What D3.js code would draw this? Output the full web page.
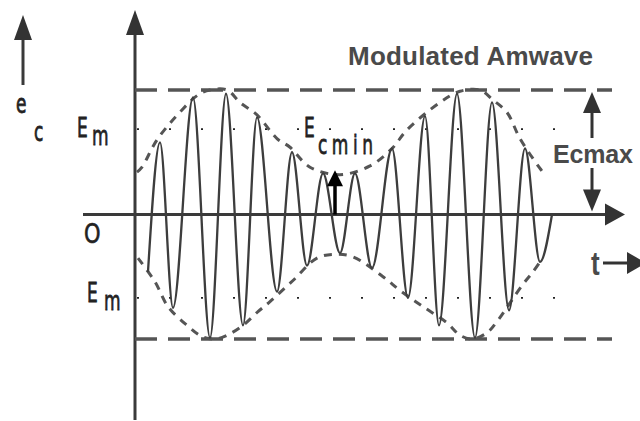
<!DOCTYPE html>
<meta charset="utf-8">
<script src="https://d3js.org/d3.v7.min.js"></script>
<style>
body { margin: 0; background: #fff; }
.wave { fill: none; stroke: #3d3d3d; stroke-width: 2.3px; stroke-linejoin: round; }
.env { fill: none; stroke: #555; stroke-width: 3px; stroke-dasharray: 8,7; }
.level { fill: none; stroke: #555; stroke-width: 3.5px; stroke-dasharray: 22,11; }
.dots { fill: none; stroke: #222; stroke-width: 1.6px; stroke-dasharray: 2,30; }
.axis { stroke: #3a3a3a; stroke-width: 3px; }
.lbl { font-family: "DejaVu Sans", sans-serif; font-size: 17px; fill: #222; stroke: #222; stroke-width: 0.5px; }
.bold { font-family: "Liberation Sans", Arial, sans-serif; font-weight: bold; fill: #4a4a4a; }
</style>
<div id="plot"></div>
<script>
// carrier peaks and troughs (t, e)
var carrierT = [1.3, 2.5, 3.8, 5.8, 7.5, 9.1, 10.8, 12.2, 14.2, 15.7, 17.2, 18.8, 20.5,
                22.0, 23.7, 25.7, 27.3, 29.0, 30.4, 32.2, 34.0, 35.7, 37.4, 39.0, 40.5, 41.7];
var carrierE = [-0.46, 0.58, -0.75, 0.94, -0.99, 0.97, -0.89, 0.78, -0.62, 0.50, -0.41, 0.33, -0.31,
                0.33, -0.43, 0.53, -0.67, 0.79, -0.89, 0.97, -0.99, 0.90, -0.77, 0.53, -0.38, 0];

// envelopes (dashed)
var upperT = [0.2, 0.7, 2.2, 4.7, 6.3, 7.5, 9.2, 10.5, 12.2, 14.2, 15.5, 17.5, 20.5,
              23.5, 25.7, 27.2, 30.5, 32.5, 34.5, 35.8, 37.2, 38.5, 40.5, 41.0];
var upperE = [0.34, 0.38, 0.60, 0.84, 0.96, 1.0, 1.0, 0.90, 0.80, 0.61, 0.54, 0.38, 0.32,
              0.39, 0.53, 0.68, 0.90, 0.99, 1.0, 0.92, 0.82, 0.61, 0.37, 0.32];
var lowerT = [0.3, 2.0, 3.3, 5.2, 6.7, 8.0, 9.2, 10.8, 12.3, 13.5, 15.8, 18.2, 20.0,
              21.8, 24.8, 26.5, 28.8, 31.2, 32.5, 33.7, 35.2, 36.2, 38.7, 39.8, 40.5];
var lowerE = [-0.35, -0.54, -0.74, -0.89, -0.98, -1.0, -0.97, -0.89, -0.78, -0.70, -0.53, -0.35, -0.32,
              -0.34, -0.50, -0.61, -0.74, -0.87, -0.97, -1.0, -0.95, -0.86, -0.57, -0.46, -0.38];

// reference levels
var ecMax = 1.0, em = 0.67, ecMin = 0.34;

var width = 640, height = 421;

var x = d3.scaleLinear().domain([0, 50]).range([135, 635]);
var y = d3.scaleLinear().domain([-1, 1]).range([339, 90]);

var svg = d3.select("#plot").append("svg")
    .attr("width", width)
    .attr("height", height);

function zip(a, b) { return a.map(function(d, i) { return [d, b[i]]; }); }

function head(px, py, dir, len, half, col) {
    // dir: "up", "down", "right"
    var p;
    if (dir == "up") p = [[px, py], [px - half, py + len], [px + half, py + len]];
    else if (dir == "down") p = [[px, py], [px - half, py - len], [px + half, py - len]];
    else p = [[px, py], [px - len, py - half], [px - len, py + half]];
    svg.append("polygon").attr("points", p.join(" ")).attr("fill", col || "#333");
}

// axes
svg.append("line").attr("class", "axis")
    .attr("x1", x(0)).attr("x2", x(0)).attr("y1", 420).attr("y2", 30);
head(x(0), 10, "up", 25, 9);
svg.append("line").attr("class", "axis")
    .attr("x1", 83).attr("x2", 610).attr("y1", y(0)).attr("y2", y(0));
head(625, y(0), "right", 20, 11);

// e_c arrow on the left
svg.append("line").attr("class", "axis")
    .attr("x1", 23).attr("x2", 23).attr("y1", 85).attr("y2", 35);
head(23, 15, "up", 25, 9);

// Ecmax levels
svg.append("line").attr("class", "level")
    .attr("x1", x(0)).attr("x2", 612).attr("y1", y(ecMax)).attr("y2", y(ecMax));
svg.append("line").attr("class", "level")
    .attr("x1", x(0)).attr("x2", 612).attr("y1", y(-ecMax)).attr("y2", y(-ecMax));

// Em dotted levels
svg.append("line").attr("class", "dots")
    .attr("x1", x(0) + 2).attr("x2", 556).attr("y1", y(em) - 2).attr("y2", y(em) - 2);
svg.append("line").attr("class", "dots")
    .attr("x1", x(0) + 2).attr("x2", 556).attr("y1", y(-em)).attr("y2", y(-em));

// envelopes
var envLine = d3.line()
    .x(function(d) { return x(d[0]); })
    .y(function(d) { return y(d[1]); })
    .curve(d3.curveCatmullRom);
svg.append("path").attr("class", "env").attr("d", envLine(zip(upperT, upperE)));
svg.append("path").attr("class", "env").attr("d", envLine(zip(lowerT, lowerE)));

// modulated carrier
var waveLine = d3.line()
    .x(function(d) { return x(d[0]); })
    .y(function(d) { return y(d[1]); })
    .curve(d3.curveMonotoneX);
svg.append("path").attr("class", "wave").attr("d", waveLine(zip(carrierT, carrierE)));

// Ecmin arrow
svg.append("line")
    .attr("x1", x(20)).attr("x2", x(20)).attr("y1", y(0)).attr("y2", y(ecMin) + 12)
    .attr("stroke", "#000").attr("stroke-width", 3.5);
head(x(20), y(ecMin) - 2, "up", 16, 8, "#000");

// Ecmax double arrow
svg.append("line").attr("stroke", "#333").attr("stroke-width", 3)
    .attr("x1", 592).attr("x2", 592).attr("y1", 112).attr("y2", 138);
head(592, y(ecMax) + 2, "up", 21, 9);
svg.append("line").attr("stroke", "#333").attr("stroke-width", 3)
    .attr("x1", 592).attr("x2", 592).attr("y1", 168).attr("y2", 190);
head(592, y(0) - 3, "down", 22, 9);

// t arrow
svg.append("line").attr("stroke", "#333").attr("stroke-width", 3)
    .attr("x1", 603).attr("x2", 630).attr("y1", 263).attr("y2", 263);
head(646, 263, "right", 19, 11);

// labels
function lbl(tx, ty, s, sy, cls, extra) {
    var t = svg.append("text")
        .attr("class", cls || "lbl")
        .attr("transform", "translate(" + tx + "," + ty + ") scale(1," + sy + ")")
        .text(s);
    if (extra) extra(t);
    return t;
}
lbl(16, 113, "e", 1.6);
lbl(34, 141, "c", 1.6);
lbl(77, 137, "E", 1.6);
lbl(92, 145, "m", 1.6);
lbl(87, 302, "E", 1.6);
lbl(104, 310, "m", 1.6);
lbl(304, 137, "E", 1.6);
lbl(318, 154, "cmin", 1.6, "lbl", function(t) { t.attr("textLength", 55); });
lbl(84, 243, "O", 1.3, "lbl", function(t) { t.style("font-size", "21px"); });

svg.append("text").attr("class", "bold")
    .attr("x", 348).attr("y", 65)
    .style("font-size", "26px")
    .attr("textLength", 245)
    .text("Modulated Amwave");
svg.append("text").attr("class", "bold")
    .attr("x", 553).attr("y", 163)
    .style("font-size", "25px")
    .attr("textLength", 80)
    .text("Ecmax");
lbl(591, 275, "t", 1.3, "bold", function(t) { t.style("font-size", "26px"); });
</script>
